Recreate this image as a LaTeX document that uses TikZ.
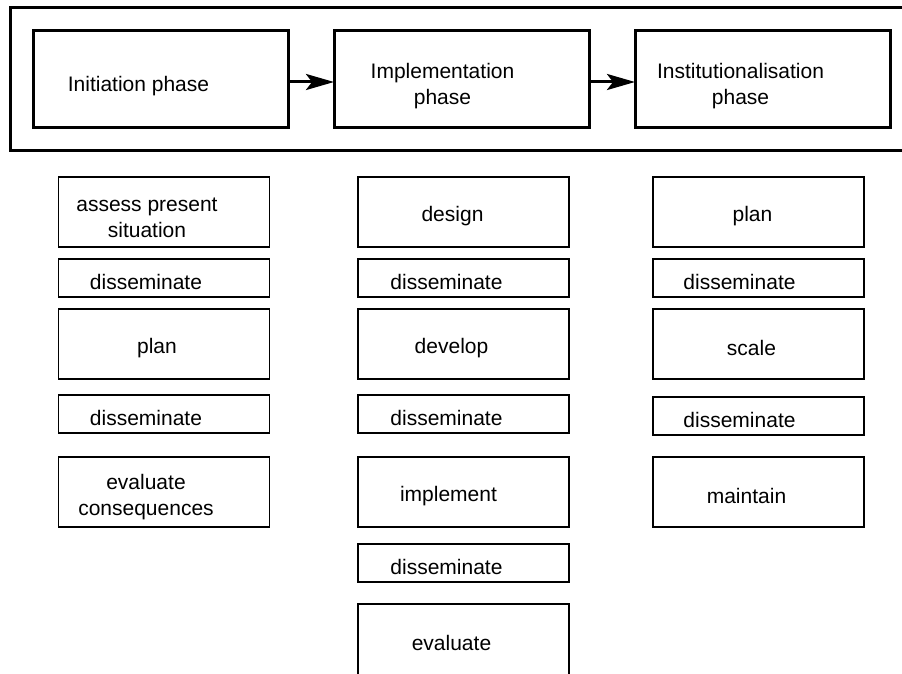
\documentclass[tikz,border=0pt]{standalone}
\usepackage{fontspec}
\setmainfont{Liberation Sans}
\usetikzlibrary{arrows.meta,positioning}

\begin{document}
\begin{tikzpicture}[x=1pt,y=-1pt,node distance=12pt and 46pt,
  lbl/.style={font=\fontsize{21pt}{26pt}\selectfont,align=center,yshift=-4pt},
  stagebox/.style={draw,line width=3pt,outer sep=0pt,minimum width=905pt,minimum height=143pt,anchor=north west},
  phase/.style={draw,line width=3pt,outer sep=0pt,minimum width=255pt,minimum height=97pt},
  cell/.style={draw,line width=1.4pt,outer sep=0pt,minimum width=211pt},
  tallcell/.style={cell,minimum height=70pt},
  flatcell/.style={cell,minimum height=38pt},
  flow/.style={line width=3pt,-{Stealth[length=28pt,width=16pt,inset=6pt]}}]
\useasboundingbox (0,0) rectangle (902,674);
\clip (0,0) rectangle (902,674);
\node[stagebox] (stage) at (10,8) {};
\node[phase,anchor=north west,label={[lbl,xshift=-22pt,yshift=-3pt]center:Initiation phase}] (init) at (33,31) {};
\node[phase,right=of init,label={[lbl,xshift=-19pt,yshift=-3pt]center:Implementation\\phase}] (impl) {};
\node[phase,right=of impl,label={[lbl,xshift=-22pt,yshift=-3pt]center:Institutionalisation\\phase}] (inst) {};
\draw[flow] ([yshift=-2.5pt]init.east) -- ([yshift=-2.5pt]impl.west);
\draw[flow] ([yshift=-2.5pt]impl.east) -- ([yshift=-2.5pt]inst.west);
% initiation steps
\node[tallcell,anchor=north,label={[lbl,xshift=-17pt,yshift=-2pt]center:assess present\\situation}] (assess) at (164,177) {};
\node[flatcell,below=of assess,label={[lbl,xshift=-18pt]center:disseminate}] (spreadA1) {};
\node[tallcell,below=of spreadA1,label={[lbl,xshift=-7pt]center:plan}] (planA) {};
\node[flatcell,below=16pt of planA,label={[lbl,xshift=-18pt]center:disseminate}] (spreadA2) {};
\node[tallcell,below=24pt of spreadA2,label={[lbl,xshift=-18pt,yshift=-1pt]center:evaluate\\consequences}] (consequences) {};
% implementation steps
\node[tallcell,anchor=north,label={[lbl,xshift=-11pt]center:design}] (design) at (463.5,177) {};
\node[flatcell,below=of design,label={[lbl,xshift=-17pt]center:disseminate}] (spreadB1) {};
\node[tallcell,below=of spreadB1,label={[lbl,xshift=-12pt]center:develop}] (develop) {};
\node[flatcell,below=16pt of develop,label={[lbl,xshift=-17pt]center:disseminate}] (spreadB2) {};
\node[tallcell,below=24pt of spreadB2,label={[lbl,xshift=-15pt]center:implement}] (implement) {};
\node[flatcell,below=17pt of implement,label={[lbl,xshift=-17pt]center:disseminate}] (spreadB3) {};
\node[cell,minimum height=80pt,below=22pt of spreadB3,label={[lbl,xshift=-12pt,yshift=5pt]center:evaluate}] (evaluate) {};
% institutionalisation steps
\node[tallcell,anchor=north,label={[lbl,xshift=-6pt]center:plan}] (planC) at (758.5,177) {};
\node[flatcell,below=of planC,label={[lbl,xshift=-19pt]center:disseminate}] (spreadC1) {};
\node[tallcell,below=of spreadC1,label={[lbl,xshift=-7pt]center:scale}] (scale) {};
\node[flatcell,below=18pt of scale,label={[lbl,xshift=-19pt]center:disseminate}] (spreadC2) {};
\node[tallcell,below=22pt of spreadC2,label={[lbl,xshift=-12pt]center:maintain}] (maintain) {};
\end{tikzpicture}
\end{document}
